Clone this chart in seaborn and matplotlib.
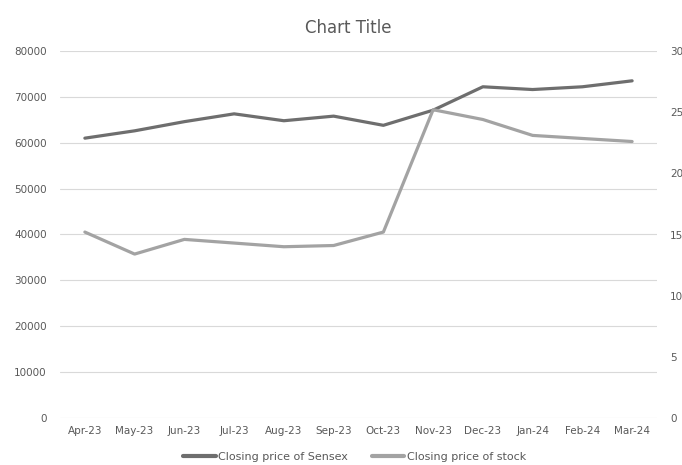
import matplotlib
matplotlib.use("Agg")
import matplotlib.pyplot as plt
import seaborn as sns
import pandas as pd

months = ["Apr-23", "May-23", "Jun-23", "Jul-23", "Aug-23", "Sep-23",
          "Oct-23", "Nov-23", "Dec-23", "Jan-24", "Feb-24", "Mar-24"]
sensex = [61000, 62600, 64600, 66300, 64800, 65800, 63800, 67100, 72200, 71600, 72200, 73500]
stock = [15.2, 13.4, 14.6, 14.3, 14.0, 14.1, 15.2, 25.2, 24.4, 23.1, 22.85, 22.6]

left_ticks = [0, 10000, 20000, 30000, 40000, 50000, 60000, 70000, 80000]
right_ticks = [0, 5, 10, 15, 20, 25, 30]

df = pd.DataFrame({"Month": months, "Sensex": sensex, "Stock": stock})

sns.set_style("white")
plt.rcParams["font.family"] = ["DejaVu Sans"]

c_sensex = "#6e6e6e"
c_stock = "#a3a3a3"
txt = "#595959"

fig = plt.figure(figsize=(6.82, 4.65), dpi=100)
ax = fig.add_axes([60 / 682, 1 - 418 / 465, (657 - 60) / 682, (418 - 51) / 465])
ax2 = ax.twinx()

sns.lineplot(data=df, x="Month", y="Sensex", ax=ax, color=c_sensex, linewidth=2.3,
             sort=False, label="Closing price of Sensex", legend=False)
sns.lineplot(data=df, x="Month", y="Stock", ax=ax2, color=c_stock, linewidth=2.3,
             sort=False, label="Closing price of stock", legend=False)

ax.set_xlim(-0.5, len(months) - 0.5)
ax.set_ylim(0, 80000)
ax.set_yticks(left_ticks)
ax.set_yticklabels([str(t) for t in left_ticks])
ax2.set_ylim(0, 30)
ax2.set_yticks(right_ticks)
ax2.set_yticklabels([str(t) for t in right_ticks])
ax.set_xticks(range(len(months)))
ax.set_xticklabels(months)

ax.grid(axis="y", color="#d9d9d9", linewidth=0.8)
ax.set_axisbelow(True)
ax2.grid(False)
for a in (ax, ax2):
    for s in a.spines.values():
        s.set_visible(False)
    a.set_xlabel("")
    a.set_ylabel("")
ax.tick_params(axis="y", length=0, pad=9.5, labelsize=7.5, labelcolor=txt)
ax2.tick_params(axis="y", length=0, pad=9.5, labelsize=7.5, labelcolor=txt)
ax.tick_params(axis="x", length=0, pad=6, labelsize=7.5, labelcolor=txt)

fig.text(348 / 682, 1 - 28 / 465, "Chart Title", ha="center", va="center",
         fontsize=12, color=txt)

h1, l1 = ax.get_legend_handles_labels()
h2, l2 = ax2.get_legend_handles_labels()
leg = fig.legend(h1 + h2, l1 + l2, loc="center", bbox_to_anchor=(0.52, 1 - 457 / 465),
                 ncol=2, frameon=False, fontsize=8, labelcolor=txt,
                 handlelength=2.9, handletextpad=0.2, columnspacing=2.2)
for line in leg.get_lines():
    line.set_linewidth(3)

fig.savefig("out.png", dpi=100)
